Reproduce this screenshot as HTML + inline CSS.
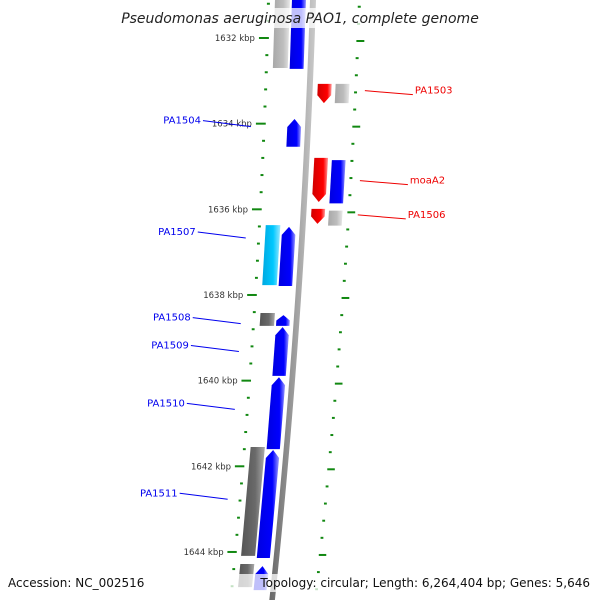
<!DOCTYPE html>
<html><head><meta charset="utf-8"><style>
html,body{margin:0;padding:0;background:#fff}
svg{display:block}
text{font-family:"DejaVu Sans","Liberation Sans",sans-serif}
</style></head><body>
<svg id="map" width="600" height="600" viewBox="0 0 600 600">
<defs>
<linearGradient id="gBlue" x1="0" x2="1" y1="0" y2="0"><stop offset="0" stop-color="#0000e0"/><stop offset="0.7" stop-color="#0000ff"/><stop offset="1" stop-color="#9999ff"/></linearGradient>
<linearGradient id="gRed" x1="0" x2="1" y1="0" y2="0"><stop offset="0" stop-color="#d00000"/><stop offset="0.7" stop-color="#ff0000"/><stop offset="1" stop-color="#ff9999"/></linearGradient>
<linearGradient id="gGray" x1="0" x2="1" y1="0" y2="0"><stop offset="0" stop-color="#a8a8a8"/><stop offset="0.6" stop-color="#bdbdbd"/><stop offset="1" stop-color="#e8e8e8"/></linearGradient>
<linearGradient id="gDark" x1="0" x2="1" y1="0" y2="0"><stop offset="0" stop-color="#555"/><stop offset="0.6" stop-color="#6a6a6a"/><stop offset="1" stop-color="#aaa"/></linearGradient>
<linearGradient id="gCyan" x1="0" x2="1" y1="0" y2="0"><stop offset="0" stop-color="#00a8e0"/><stop offset="0.6" stop-color="#00c8ff"/><stop offset="1" stop-color="#99e8ff"/></linearGradient>
<linearGradient id="gBack" x1="0" x2="1" y1="0" y2="0"><stop offset="0" stop-color="#666"/><stop offset="0.5" stop-color="#999"/><stop offset="1" stop-color="#ccc"/></linearGradient>
</defs>
<g id="ticks"></g>
<g id="backbone"></g>
<g id="genes"></g>
<g id="labels"></g>
<rect x="122" y="8" width="358" height="20" fill="#fff" fill-opacity="0.75"/>
<text x="300" y="23" text-anchor="middle" font-size="14" font-style="italic" fill="#222">Pseudomonas aeruginosa PAO1, complete genome</text>
<text x="8" y="587" font-size="12" fill="#111">Accession: NC_002516</text>
<rect x="226" y="574" width="368" height="18" fill="#fff" fill-opacity="0.75"/>
<text x="590" y="587" text-anchor="end" font-size="12" fill="#111">Topology: circular; Length: 6,264,404 bp; Genes: 5,646</text>
</svg>
<script>
// gene data (kbp)
const geneNames = ["top-fwd","PA1504","PA1507","PA1508","PA1509","PA1510","PA1511","bottom-fwd","top-gray","PA1507-hom","PA1508-hom","PA1511-hom","bottom-gray","PA1503","moaA2","PA1506","PA1503-hom","moaA2-hom","PA1506-hom"];
const geneStarts = [1631.0,1633.89,1636.41,1638.47,1638.75,1639.92,1641.62,1644.33,1631.0,1636.37,1638.42,1641.55,1644.28,1633.07,1634.80,1635.99,1633.07,1634.85,1636.03];
const geneEnds   = [1632.72,1634.54,1637.79,1638.72,1639.89,1641.60,1644.14,1644.89,1632.70,1637.77,1638.72,1644.09,1644.82,1633.52,1635.83,1636.34,1633.52,1635.86,1636.38];
const geneLanes  = [0,0,0,0,0,0,0,0,1,1,1,1,1,2,2,2,3,3,3];
const geneStrand = [0,1,1,1,1,1,1,1,0,0,0,0,0,-1,-1,-1,0,0,0];
const geneFill   = ["gBlue","gBlue","gBlue","gBlue","gBlue","gBlue","gBlue","gBlue","gGray","gCyan","gDark","gDark","gDark","gRed","gRed","gRed","gGray","gBlue","gGray"];
const tickMajor = [1632,1634,1636,1638,1640,1642,1644];
const tickLabels = ["1632 kbp","1634 kbp","1636 kbp","1638 kbp","1640 kbp","1642 kbp","1644 kbp"];
const labelNames = ["PA1504","PA1507","PA1508","PA1509","PA1510","PA1511","PA1503","moaA2","PA1506"];
const labelSide = [-1,-1,-1,-1,-1,-1,1,1,1];
const labelKbp = [1634.0,1636.6,1638.6,1639.25,1640.6,1642.7,1633.3,1635.4,1636.2];

const NS="http://www.w3.org/2000/svg";
function yOf(k){return 38+(k-1632)*42.83;}
function bx(y){return 313-0.0319*y-6.04e-5*y*y;}
function sc(y){return 1-0.07*y/600;}
function px(y,off){return bx(y)+off*sc(y);}
const laneOff=[[-21,-7],[-38,-23],[8,22],[26,40]];

function el(tag,attrs,parent){const e=document.createElementNS(NS,tag);for(const k in attrs)e.setAttribute(k,attrs[k]);parent.appendChild(e);return e;}

// backbone
const bb=document.getElementById('backbone');
let pts=[];for(let y=-5;y<=605;y+=5)pts.push([px(y,-3),y]);for(let y=605;y>=-5;y-=5)pts.push([px(y,3),y]);
const bbp=el('polygon',{points:pts.map(p=>p.join(',')).join(' '),fill:'url(#gBack)'},bb);



// ticks
const tg=document.getElementById('ticks');
for(let k=1630.8;k<=1645.7;k+=0.4){
  const kk=Math.round(k*10)/10;
  const y=yOf(kk);
  if(y<-5||y>605)continue;
  const mi=tickMajor.findIndex(m=>Math.abs(m-kk)<0.05);
  const major=mi>=0;
  const l1=el('line',{x1:px(y,major?-53:-46),x2:px(y,-43),y1:y,y2:y,stroke:'#118811','stroke-width':2},tg);
  
  
  const y2=y+3;
  const l2=el('line',{x1:px(y2,45),x2:px(y2,major?53:48),y1:y2,y2:y2,stroke:'#118811','stroke-width':2},tg);
  
  
  if(major){
    const t=el('text',{x:px(y,-57),y:y+3,'text-anchor':'end','font-size':8.5,fill:'#333'},tg);
    t.textContent=tickLabels[mi];
    
    
  }
}

// genes
const gg=document.getElementById('genes');
for(let i=0;i<geneNames.length;i++){
  const y1=yOf(geneStarts[i]),y2=yOf(geneEnds[i]);
  const [o1,o2]=laneOff[geneLanes[i]];
  const h=Math.min(8,(y2-y1)/2);
  let p;
  if(geneStrand[i]===1){
    const om=(o1+o2)/2;
    p=[[px(y1,om),y1],[px(y1+h,o2),y1+h],[px(y2,o2),y2],[px(y2,o1),y2],[px(y1+h,o1),y1+h]];
  }else if(geneStrand[i]===-1){
    const om=(o1+o2)/2;
    p=[[px(y1,o1),y1],[px(y1,o2),y1],[px(y2-h,o2),y2-h],[px(y2,om),y2],[px(y2-h,o1),y2-h]];
  }else{
    p=[[px(y1,o1),y1],[px(y1,o2),y1],[px(y2,o2),y2],[px(y2,o1),y2]];
  }
  const g=el('polygon',{points:p.map(q=>q.join(',')).join(' '),fill:'url(#'+geneFill[i]+')'},gg);
  
  
}

// labels
const lg=document.getElementById('labels');
for(let i=0;i<labelNames.length;i++){
  const y=yOf(labelKbp[i]);
  const s=labelSide[i];
  const col=s<0?'#0000ee':'#ee0000';
  let lx1,lx2,tx;
  if(s<0){lx2=px(y,-58);lx1=lx2-48;tx=lx1-2;}
  else{lx1=px(y,56);lx2=lx1+48;tx=lx2+2;}
  const ln=el('line',{x1:lx1,y1:y-3,x2:lx2,y2:y+3*(s<0?1:0)+(s<0?0:1),stroke:col,'stroke-width':1},lg);
  
  
  const t=el('text',{x:tx,y:y,'text-anchor':s<0?'end':'start','font-size':10,fill:col},lg);
  t.textContent=labelNames[i];
  
  
}
</script>
</body></html>
